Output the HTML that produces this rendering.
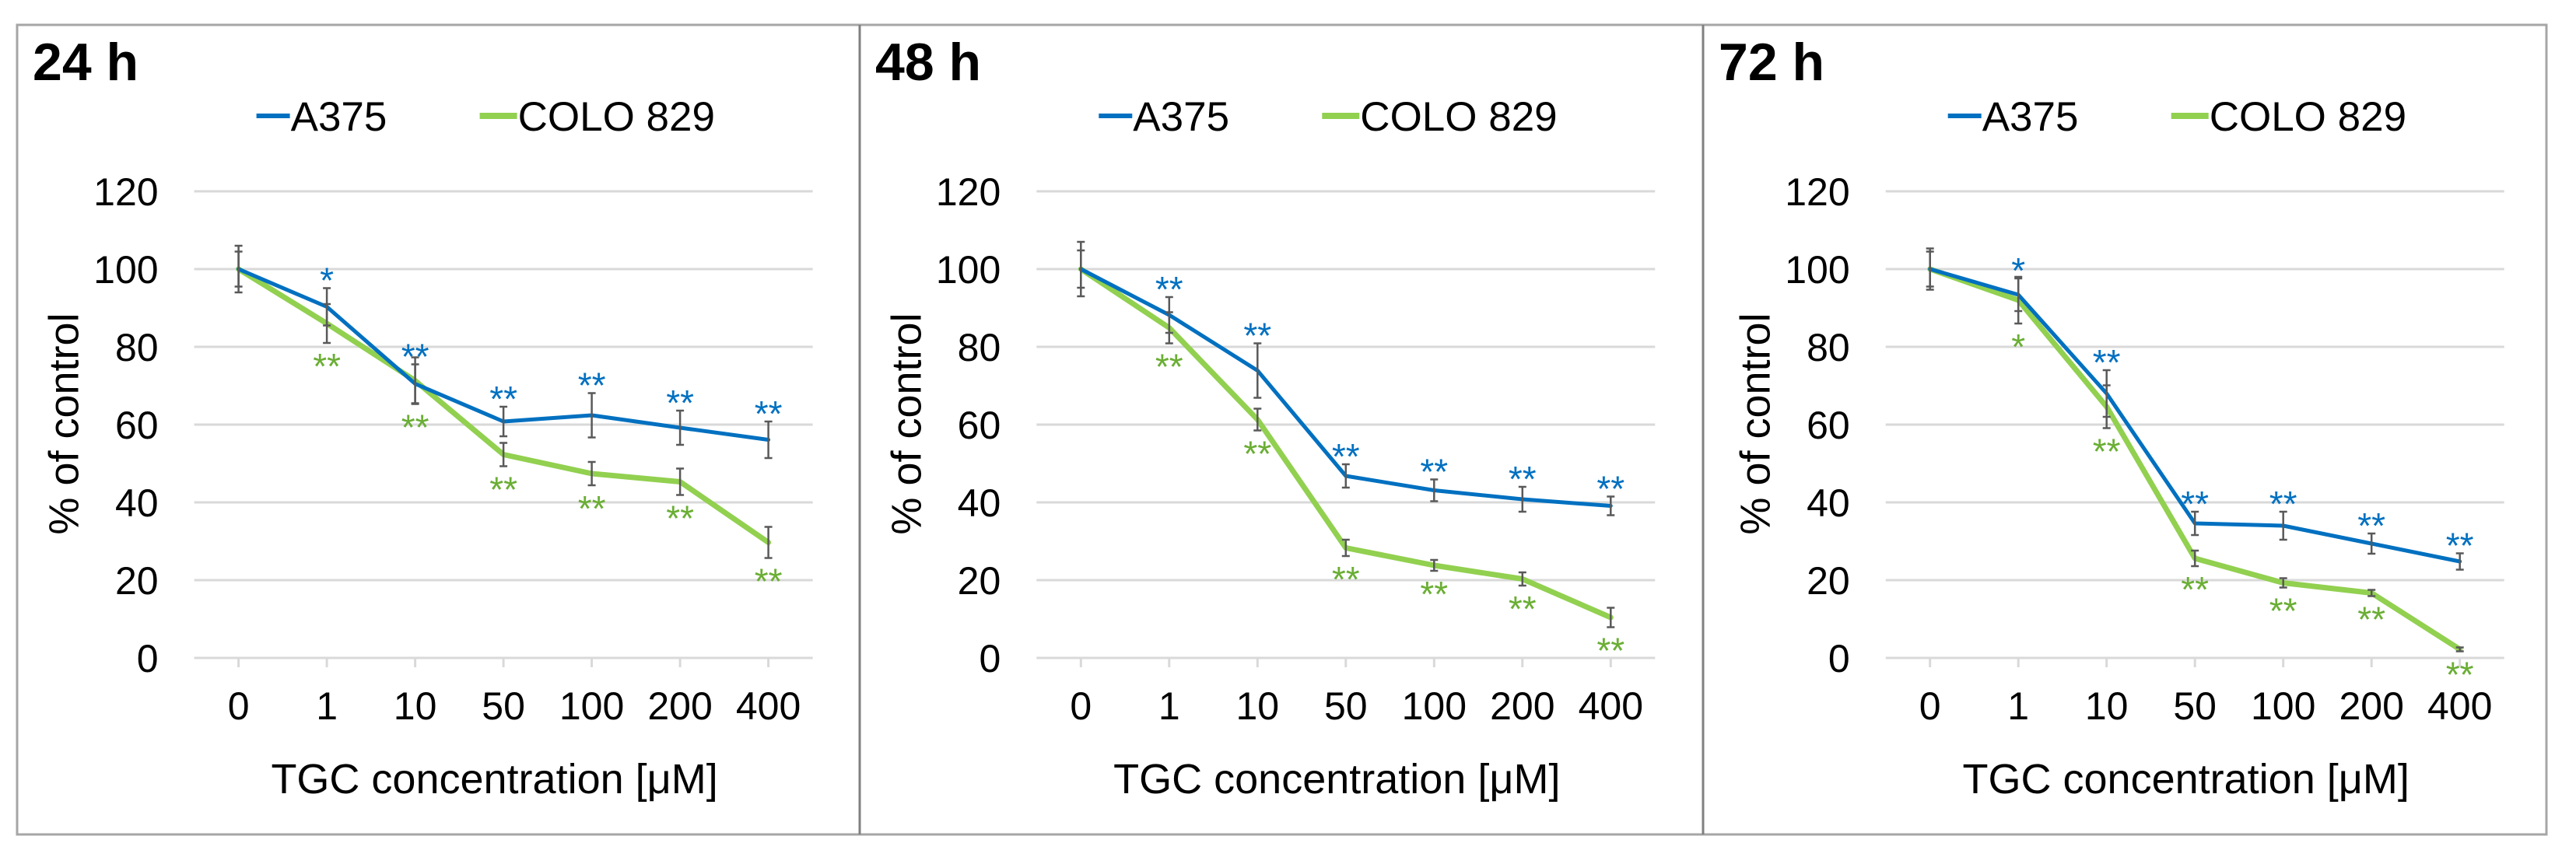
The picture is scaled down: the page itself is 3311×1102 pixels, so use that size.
<!DOCTYPE html>
<html><head><meta charset="utf-8"><style>
html,body{margin:0;padding:0;background:#fff;}
svg{display:block;font-family:"Liberation Sans",Arial,sans-serif;}
</style></head><body>
<svg id="fig" width="3311" height="1102" viewBox="0 0 3311 1102" xmlns="http://www.w3.org/2000/svg">
<rect x="0" y="0" width="3311" height="1102" fill="#fff"/>
<rect x="22" y="32" width="3251" height="1041" fill="none" stroke="#A6A6A6" stroke-width="3"/>
<line x1="1105" y1="32" x2="1105" y2="1073" stroke="#808080" stroke-width="3"/>
<line x1="2189" y1="32" x2="2189" y2="1073" stroke="#808080" stroke-width="3"/>
</svg>
<script>
const categories = ["0","1","10","50","100","200","400"];
const yTicks = [0,20,40,60,80,100,120];
const panelTitles = ["24 h","48 h","72 h"];
const a375_24 = [100,90.3,70.5,60.8,62.4,59.2,56.1];
const a375Err_24 = [6,4.8,5,3.8,5.7,4.4,4.7];
const colo_24 = [100,86,71.3,52.3,47.4,45.3,29.7];
const coloErr_24 = [4.5,5,6,3,3,3.4,4];
const a375Stars_24 = ["","*","**","**","**","**","**"];
const coloStars_24 = ["","**","**","**","**","**","**"];
const a375_48 = [100,88.2,73.9,46.8,43.1,40.8,39.1];
const a375Err_48 = [7,4.6,7,3,2.8,3.2,2.4];
const colo_48 = [100,84.9,61.3,28.3,23.8,20.3,10.4];
const coloErr_48 = [4.8,4,2.8,2.1,1.4,1.7,2.5];
const a375Stars_48 = ["","**","**","**","**","**","**"];
const coloStars_48 = ["","**","**","**","**","**","**"];
const a375_72 = [100,93.4,68,34.6,34,29.4,24.8];
const a375Err_72 = [5.3,4.2,6,3,3.6,2.6,2.1];
const colo_72 = [100,92,64.6,25.6,19.3,16.7,2.2];
const coloErr_72 = [4.5,6,5.5,2,1.2,0.8,0.5];
const a375Stars_72 = ["","*","**","**","**","**","**"];
const coloStars_72 = ["","*","**","**","**","**","**"];

const panels = [
  {title:panelTitles[0], div:22, c0:306.6, a:a375_24, ae:a375Err_24, c:colo_24, ce:coloErr_24, as:a375Stars_24, cs:coloStars_24},
  {title:panelTitles[1], div:1105, c0:1389.3, a:a375_48, ae:a375Err_48, c:colo_48, ce:coloErr_48, as:a375Stars_48, cs:coloStars_48},
  {title:panelTitles[2], div:2189, c0:2480.7, a:a375_72, ae:a375Err_72, c:colo_72, ce:coloErr_72, as:a375Stars_72, cs:coloStars_72}
];
const NS="http://www.w3.org/2000/svg";
const svg=document.getElementById('fig');
const BLUE="#0070C0", GREEN="#92D050", GSTAR="#6AAE34";
function mk(tag, attrs, parent){const e=document.createElementNS(NS,tag);for(const k in attrs)e.setAttribute(k,attrs[k]);(parent||svg).appendChild(e);return e;}
const yScale=v=>846-v*5;
const step=113.5;

panels.forEach((p,pi)=>{
  const xScale=i=>p.c0+i*step;
  const g=mk('g',{});
  
  
  const t=mk('text',{x:p.div+20,y:103,'font-size':68,'font-weight':'bold',fill:'#000'},g);
  t.textContent=p.title;
  
  
  // legend
  const lg=mk('g',{},g);
  
  
  const l1=mk('line',{x1:p.c0+23,y1:149,x2:p.c0+66,y2:149,stroke:BLUE,'stroke-width':6},lg);
  
  
  const lt1=mk('text',{x:p.c0+67,y:168,'font-size':53,fill:'#000'},lg);lt1.textContent="A375";
  
  
  const l2=mk('line',{x1:p.c0+310,y1:149,x2:p.c0+358,y2:149,stroke:GREEN,'stroke-width':8},lg);
  
  
  const lt2=mk('text',{x:p.c0+359,y:168,'font-size':53,fill:'#000'},lg);lt2.textContent="COLO 829";
  
  
  // grid & y labels
  yTicks.forEach(v=>{
    const gl=mk('line',{x1:p.c0-57,y1:yScale(v),x2:p.c0+6*step+57,y2:yScale(v),stroke:'#D9D9D9','stroke-width':3},g);
    
    
    const yl=mk('text',{x:p.c0-103,y:yScale(v)+18,'font-size':50,'text-anchor':'end',fill:'#000'},g);
    yl.textContent=v;
    
    
  });
  categories.forEach((c,i)=>{
    const tk=mk('line',{x1:xScale(i),y1:846,x2:xScale(i),y2:858,stroke:'#D9D9D9','stroke-width':3},g);
    
    
    const xl=mk('text',{x:xScale(i),y:925,'font-size':50,'text-anchor':'middle',fill:'#000'},g);
    xl.textContent=c;
    
    
  });
  const yt=mk('text',{x:0,y:0,'font-size':54,'text-anchor':'middle',fill:'#000',transform:`translate(${p.c0-206},545) rotate(-90)`},g);
  yt.textContent="% of control";
  
  
  const xt=mk('text',{x:p.c0+329,y:1020,'font-size':54,'text-anchor':'middle',fill:'#000'},g);
  xt.textContent="TGC concentration [μM]";
  
  
  // series
  function series(vals, color, w, name){
    const pts=vals.map((v,i)=>xScale(i)+','+yScale(v)).join(' ');
    const pl=mk('polyline',{points:pts,fill:'none',stroke:color,'stroke-width':w,'stroke-linejoin':'round','stroke-linecap':'round'},g);
    
    
  }
  function errs(vals, e, name){
    vals.forEach((v,i)=>{
      const x=xScale(i), y1=yScale(v+e[i]), y2=yScale(v-e[i]);
      const eb=mk('path',{d:`M${x},${y1}V${y2}M${x-5},${y1}H${x+5}M${x-5},${y2}H${x+5}`,stroke:'#595959','stroke-width':2.5,fill:'none'},g);
      
      
    });
  }
  series(p.c,GREEN,7,'line-colo829');
  series(p.a,BLUE,5,'line-a375');
  errs(p.c,p.ce,'error-bar-colo829');
  errs(p.a,p.ae,'error-bar-a375');
  p.a.forEach((v,i)=>{
    if(!p.as[i])return;
    const s=mk('text',{x:xScale(i),y:yScale(v+p.ae[i])+6,'font-size':46,'text-anchor':'middle',fill:BLUE},g);
    s.textContent=p.as[i];
    
    
  });
  p.c.forEach((v,i)=>{
    if(!p.cs[i])return;
    const s=mk('text',{x:xScale(i),y:yScale(v-p.ce[i])+46,'font-size':46,'text-anchor':'middle',fill:GSTAR},g);
    s.textContent=p.cs[i];
    
    
  });
});
</script>
</body></html>
